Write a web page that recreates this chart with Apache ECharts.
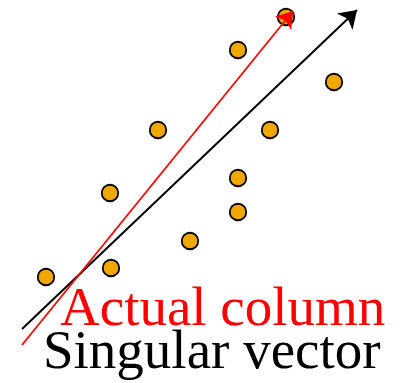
<!DOCTYPE html>
<html>
<head>
<meta charset="utf-8">
<script src="https://cdn.jsdelivr.net/npm/echarts@6/dist/echarts.min.js"></script>
<style>html,body{margin:0;padding:0;background:#fff}#c{width:400px;height:383px}</style>
</head>
<body>
<div id="c"></div>
<script>
// Data (x to the right, y upward)
var pointsX = [286, 238, 334, 158, 270, 238, 110, 238, 190, 111, 46];
var pointsY = [366, 333, 301, 253, 253, 205, 190, 171, 142, 115, 106];
var singularVector = [[22, 54], [357, 373]];
var actualColumn = [[22, 38], [293, 372]];
var labels = ['Actual column', 'Singular vector'];

var chart = echarts.init(document.getElementById('c'), null, {renderer: 'canvas'});
var pts = pointsX.map(function (x, i) { return [x, pointsY[i]]; });
chart.setOption({
  animation: false,
  grid: {left: 0, right: 0, top: 0, bottom: 0},
  xAxis: {type: 'value', min: 0, max: 400, show: false},
  yAxis: {type: 'value', min: 0, max: 383, show: false},
  series: [
    {
      type: 'scatter', data: pts, symbolSize: 16.5, z: 2,
      itemStyle: {color: '#F0A800', borderColor: '#000', borderWidth: 1.8, opacity: 1}
    },
    {
      type: 'lines', coordinateSystem: 'cartesian2d', z: 3,
      symbol: ['none', 'arrow'], symbolSize: 17,
      data: [{coords: singularVector}],
      lineStyle: {color: '#000', width: 2, opacity: 1}
    },
    {
      type: 'lines', coordinateSystem: 'cartesian2d', z: 4,
      symbol: ['none', 'arrow'], symbolSize: 16,
      data: [{coords: actualColumn}],
      lineStyle: {color: '#FF0000', width: 1.8, opacity: 1}
    }
  ],
  graphic: [
    {type: 'text', left: 60, top: 283, style: {text: labels[0], fill: '#FF0000', font: '55px "Liberation Serif"'}},
    {type: 'text', left: 43, top: 326, style: {text: labels[1], fill: '#000', font: '55px "Liberation Serif"'}}
  ]
});
</script>
</body>
</html>
